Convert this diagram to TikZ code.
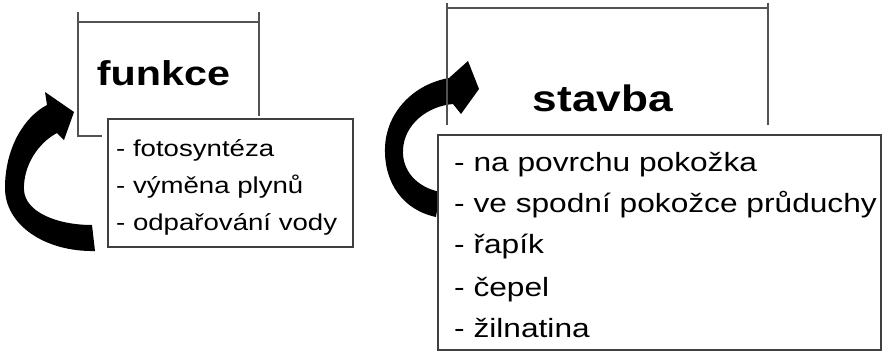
\documentclass[tikz,border=0pt]{standalone}
\usepackage{fontspec}
\setmainfont{Liberation Sans}
\newfontfamily\bodyfont[FakeStretch=1.2]{Liberation Sans}
\begin{document}
\begin{tikzpicture}[x=1pt,y=-1pt,
  frame/.style={draw=black!68, line width=1.2pt},
  tbox/.style={draw=black!75, line width=1.5pt, fill=white, inner sep=0pt, anchor=north west},
  itemL/.style={anchor=base west, inner sep=0pt, font=\bodyfont\fontsize{23}{27}\selectfont},
  itemR/.style={anchor=base west, inner sep=0pt, font=\bodyfont\fontsize{26.4}{30}\selectfont},
  headL/.style={anchor=base, inner sep=0pt, font=\bodyfont\bfseries\fontsize{34.4}{40}\selectfont},
  headR/.style={anchor=base, inner sep=0pt, font=\bodyfont\bfseries\fontsize{36.8}{42}\selectfont},
  bigarrow/.style={fill=black}]
\useasboundingbox (0,0) rectangle (882,353);

% curved arrows
\fill[bigarrow] (95,251) .. controls (45,252) and (5,225) .. (5,188)
  .. controls (5,148) and (24,117) .. (47,105)
  -- (45,92) -- (74,112) -- (64,140) -- (57,133)
  .. controls (38,143) and (23,166) .. (24,190)
  .. controls (25,212) and (57,225) .. (92,225) -- cycle;
\fill[bigarrow] (436,217) .. controls (403,210) and (384,183) .. (385,148)
  .. controls (386,112) and (414,84) .. (449,78)
  -- (468,61) -- (479,89) -- (461,114) -- (453,104)
  .. controls (428,106) and (404,124) .. (403,150)
  .. controls (402,170) and (416,187) .. (440,192) -- cycle;

% frames of the headings
\coordinate (fa) at (78,12);
\coordinate (fb) at (259,12);
\draw[frame] (fa) -- (78,136) -- (102,136);
\draw[frame] (fb) -- (259,116);
\draw[frame] (78,22) -- (259,22);
\coordinate (sa) at (447,3);
\coordinate (sb) at (768,3);
\draw[frame] (sa) -- (447,125);
\draw[frame] (sb) -- (768,125);
\draw[frame] (447,8) -- (768,8);

% headings
\node[headL] (ft) at (163.5,85) {funkce};
\node[headR] (st) at (602.7,111) {stavba};

% list boxes
\node[tbox, minimum width=245pt, minimum height=128pt] (fl) at (107,118) {};
\node[tbox, minimum width=443pt, minimum height=215pt] (sl) at (437,134) {};

\node[itemL] (f1) at (116,156) {- fotosyntéza};
\node[itemL] (f2) at (116,193) {- výměna plynů};
\node[itemL] (f3) at (116,230) {- odpařování vody};

\node[itemR] (s1) at (454,171.5) {- na povrchu pokožka};
\node[itemR] (s2) at (454,212) {- ve spodní pokožce průduchy};
\node[itemR] (s3) at (454,253) {- řapík};
\node[itemR] (s4) at (454,296) {- čepel};
\node[itemR] (s5) at (454,337) {- žilnatina};
\end{tikzpicture}
\end{document}
